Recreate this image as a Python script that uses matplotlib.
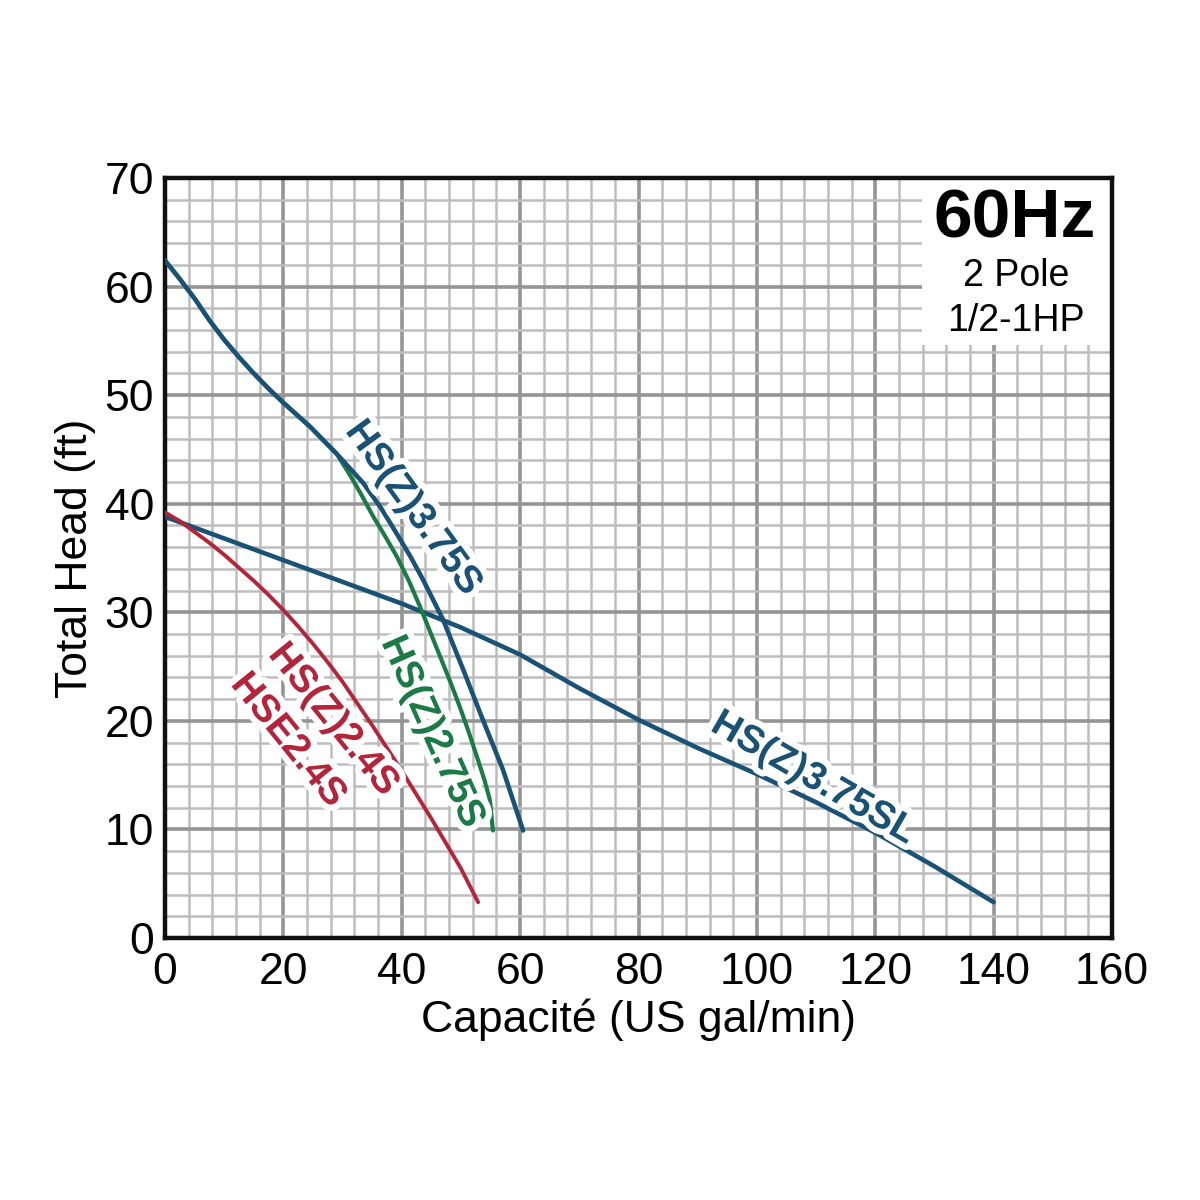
import matplotlib
matplotlib.use("Agg")
import matplotlib.pyplot as plt
import matplotlib.patheffects as pe
from matplotlib.patches import Rectangle
from matplotlib.ticker import MultipleLocator

# ---------------- data ----------------
x_ticks = [0, 20, 40, 60, 80, 100, 120, 140, 160]
y_ticks = [0, 10, 20, 30, 40, 50, 60, 70]

x_375S = [0, 2.5, 5, 7.5, 10, 12.5, 15, 17.5, 20, 24.5, 29, 33.5, 36.5, 39.2, 41.5, 43.6, 47, 50.4, 53.7, 57.1, 60.5]
y_375S = [62.4, 60.7, 58.9, 56.9, 55.1, 53.5, 52.0, 50.6, 49.3, 47.1, 44.6, 41.9, 39.6, 37.2, 35.1, 33.0, 29.3, 24.7, 20.1, 15.5, 9.9]

x_275S = [0, 2.5, 5, 7.5, 10, 12.5, 15, 17.5, 20, 24.5, 29, 31.3, 33, 35.2, 37.2, 39.2, 41.2, 43.1, 44.8, 46.5, 48.2, 49.8, 51.3, 52.7, 54.0, 54.9, 55.4]
y_275S = [62.4, 60.7, 58.9, 56.9, 55.1, 53.5, 52.0, 50.6, 49.3, 47.1, 44.6, 42.6, 41.0, 38.8, 37.0, 35.1, 32.9, 30.5, 28.2, 25.9, 23.6, 21.3, 19.0, 16.7, 14.5, 12.7, 9.9]

x_24S = [0, 2.5, 5, 7.5, 10, 12.5, 15, 17.5, 20, 22.5, 25, 27.5, 30, 32.5, 35, 37.5, 40, 42.5, 45, 47.5, 50, 52.9]
y_24S = [39.2, 38.4, 37.4, 36.4, 35.3, 34.1, 32.9, 31.6, 30.2, 28.7, 27.1, 25.4, 23.6, 21.6, 19.6, 17.5, 15.4, 13.2, 11.0, 8.7, 6.4, 3.3]

x_375SL = [0, 10, 20, 30, 40, 50, 60, 70, 80, 90, 100, 110, 120, 130, 140]
y_375SL = [38.8, 36.8, 34.8, 32.8, 30.8, 28.6, 26.1, 23.0, 20.1, 17.5, 15.1, 12.5, 9.7, 6.6, 3.3]

labels = ["HS(Z)3.75S", "HS(Z)2.75S", "HS(Z)2.4S", "HSE2.4S", "HS(Z)3.75SL"]

# ---------------- style ----------------
BLUE = "#1a5276"
GREEN = "#1b7a45"
RED = "#b2253a"
FONT = "Liberation Sans"

fig = plt.figure(figsize=(12, 12), dpi=100)
fig.patch.set_facecolor("white")
ax = fig.add_axes([165 / 1200, 1 - 938 / 1200, (1112 - 165) / 1200, (938 - 178) / 1200])

ax.set_xlim(0, 160)
ax.set_ylim(0, 70)
ax.xaxis.set_minor_locator(MultipleLocator(4))
ax.yaxis.set_minor_locator(MultipleLocator(2))
ax.set_xticks(x_ticks)
ax.set_yticks(y_ticks)
ax.set_axisbelow(True)
ax.grid(which="major", color="#959595", lw=2.6, zorder=0)
ax.grid(which="minor", color="#bdbdbd", lw=1.8, zorder=0)
ax.tick_params(which="both", length=0)
ax.tick_params(axis="x", pad=10)
ax.tick_params(axis="y", pad=8)
for lab in ax.get_xticklabels() + ax.get_yticklabels():
    lab.set_fontfamily(FONT)
    lab.set_fontsize(32)
for sp in ax.spines.values():
    sp.set_linewidth(3.2)
    sp.set_color("#111111")

ax.set_xlabel("Capacité (US gal/min)", fontfamily=FONT, fontsize=32, labelpad=4)
ax.set_ylabel("Total Head (ft)", fontfamily=FONT, fontsize=32, labelpad=6)

# white box behind the title block
ax.add_patch(Rectangle((127.9, 54.6), 32.1, 15.4, facecolor="white", edgecolor="none", zorder=1.5))

# ---------------- curves ----------------
ax.plot(x_375SL, y_375SL, color=BLUE, lw=3.3, zorder=3, solid_capstyle="round", solid_joinstyle="round")
ax.plot(x_24S, y_24S, color=RED, lw=2.8, zorder=3, solid_capstyle="round", solid_joinstyle="round")
ax.plot(x_275S, y_275S, color=GREEN, lw=3.0, zorder=3, solid_capstyle="round", solid_joinstyle="round")
ax.plot(x_375S, y_375S, color=BLUE, lw=3.3, zorder=4, solid_capstyle="round", solid_joinstyle="round")

halo = [pe.withStroke(linewidth=9, foreground="white")]
lab_specs = [
    (labels[0], 41.9, 39.6, -54, BLUE),
    (labels[1], 45.1, 19.0, -66, GREEN),
    (labels[2], 28.4, 20.1, -51, RED),
    (labels[3], 20.8, 18.2, -51, RED),
    (labels[4], 109.5, 14.7, -30, BLUE),
]
for txt, lx, ly, rot, col in lab_specs:
    ax.text(lx, ly, txt, color=col, fontsize=28, fontfamily=FONT, fontweight="bold",
            rotation=rot, rotation_mode="anchor", ha="center", va="center",
            path_effects=halo, zorder=6)

# ---------------- title block ----------------
fig.text(1015 / 1200, 1 - 220 / 1200, "60Hz", fontfamily=FONT, fontweight="bold",
         fontsize=50, ha="center", va="center")
fig.text(1016 / 1200, 1 - 276 / 1200, "2 Pole", fontfamily=FONT, fontsize=27,
         ha="center", va="center")
fig.text(1016 / 1200, 1 - 321 / 1200, "1/2-1HP", fontfamily=FONT, fontsize=27,
         ha="center", va="center")

fig.savefig("out.png", dpi=100, facecolor="white")
